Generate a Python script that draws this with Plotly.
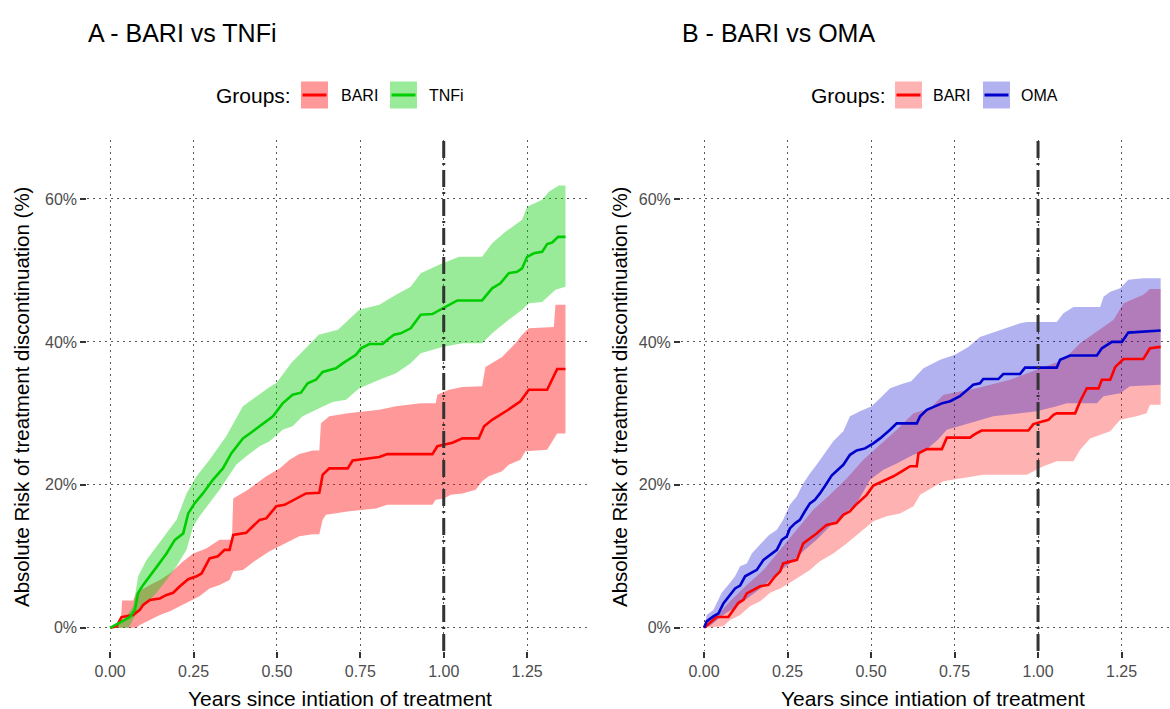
import plotly.graph_objects as go

# ---------------- data ----------------
# Panel A - BARI vs TNFi
a_tnfi_t = [0, 0.02, 0.04, 0.059, 0.074, 0.084, 0.099, 0.119, 0.144, 0.169, 0.194, 0.219, 0.234, 0.253, 0.278,
            0.308, 0.338, 0.363, 0.398, 0.428, 0.458, 0.488, 0.517, 0.547, 0.572, 0.592, 0.617, 0.637, 0.677,
            0.697, 0.737, 0.752, 0.777, 0.817, 0.831, 0.851, 0.871, 0.901, 0.931, 0.966, 1.001, 1.041, 1.115,
            1.145, 1.170, 1.195, 1.220, 1.235, 1.250, 1.270, 1.295, 1.310, 1.325, 1.343, 1.365]
a_tnfi_y = [0, 0.5, 1.0, 1.5, 2.5, 4.9, 6.0, 7.2, 8.8, 10.4, 12.3, 13.2, 16.0, 17.4, 18.8,
            20.7, 22.3, 24.4, 26.5, 27.5, 28.6, 29.6, 31.4, 32.6, 32.9, 34.2, 34.7, 35.8, 36.3,
            37.0, 38.2, 39.1, 39.7, 39.7, 40.3, 41.0, 41.2, 41.9, 43.8, 43.9, 44.8, 45.8, 45.8,
            47.5, 48.2, 49.6, 49.8, 50.3, 51.9, 52.4, 52.6, 53.7, 53.9, 54.7, 54.7]
a_tnfi_up_t = [0, 0.039, 0.069, 0.084, 0.109, 0.139, 0.169, 0.199, 0.229, 0.259, 0.298, 0.348, 0.398, 0.438,
               0.478, 0.499, 0.544, 0.59, 0.625, 0.683, 0.747, 0.807, 0.857, 0.901, 0.931, 0.986, 1.046,
               1.115, 1.145, 1.185, 1.235, 1.25, 1.295, 1.315, 1.345, 1.365]
a_tnfi_up_y = [0, 0.9, 3.0, 7.2, 9.5, 11.4, 13.2, 15.1, 18.8, 21.2, 23.5, 26.8, 31.0, 32.4,
               33.7, 34.3, 37.1, 39.3, 41.0, 41.7, 44.5, 45.2, 46.6, 47.7, 49.6, 50.8, 51.9,
               51.9, 53.8, 55.4, 57.1, 58.9, 59.9, 61.0, 61.9, 61.9]
a_tnfi_lo_t = [0, 0.055, 0.079, 0.109, 0.139, 0.169, 0.199, 0.229, 0.249, 0.268, 0.298, 0.328, 0.348, 0.378,
               0.408, 0.448, 0.478, 0.517, 0.547, 0.577, 0.627, 0.667, 0.707, 0.747, 0.807, 0.857, 0.901,
               0.931, 0.996, 1.056, 1.115, 1.145, 1.195, 1.235, 1.255, 1.295, 1.335, 1.365]
a_tnfi_lo_y = [0, 0.0, 2.0, 3.5, 4.9, 6.7, 8.6, 10.9, 14.2, 15.6, 17.4, 19.3, 20.7, 22.8,
               24.0, 25.4, 26.1, 27.7, 28.2, 29.6, 30.7, 31.6, 31.9, 33.5, 34.7, 35.6, 37.0,
               38.4, 39.3, 39.8, 39.8, 41.2, 43.1, 44.5, 45.4, 45.6, 47.3, 47.7]

a_bari_t = [0, 0.019, 0.034, 0.069, 0.089, 0.099, 0.119, 0.149, 0.169, 0.189, 0.209, 0.234, 0.259, 0.274,
            0.298, 0.323, 0.343, 0.358, 0.369, 0.408, 0.428, 0.448, 0.468, 0.498, 0.523, 0.558, 0.587,
            0.627, 0.637, 0.657, 0.712, 0.727, 0.807, 0.831, 0.966, 0.981, 1.026, 1.056, 1.105, 1.121,
            1.145, 1.19, 1.23, 1.255, 1.31, 1.34, 1.365]
a_bari_y = [0, 0.2, 1.5, 1.8, 2.5, 3.2, 3.9, 4.1, 4.6, 4.9, 5.8, 6.8, 7.2, 7.6,
            9.7, 10.0, 10.9, 10.9, 13.0, 13.3, 14.2, 15.1, 15.3, 17.0, 17.2, 18.1, 18.8,
            18.9, 21.4, 22.3, 22.3, 23.4, 23.9, 24.3, 24.3, 25.4, 25.9, 26.5, 26.5, 28.2,
            29.1, 30.4, 31.7, 33.3, 33.3, 36.2, 36.2]
a_bari_up_t = [0, 0.032, 0.036, 0.069, 0.079, 0.119, 0.149, 0.179, 0.219, 0.249, 0.288, 0.328, 0.365, 0.369,
               0.413, 0.468, 0.508, 0.538, 0.567, 0.607, 0.627, 0.632, 0.657, 0.712, 0.807, 0.857, 0.931,
               0.976, 0.981, 1.016, 1.056, 1.115, 1.125, 1.175, 1.215, 1.235, 1.255, 1.31, 1.33, 1.335,
               1.365]
a_bari_up_y = [0, 1.0, 3.8, 3.8, 4.9, 6.0, 6.7, 7.6, 9.3, 10.4, 11.1, 12.3, 12.3, 18.1,
               19.3, 21.2, 22.3, 23.5, 24.3, 24.8, 24.8, 28.6, 29.6, 30.0, 30.5, 31.0, 31.4,
               31.4, 32.6, 33.3, 33.7, 33.8, 36.5, 37.9, 39.8, 41.0, 41.9, 42.1, 42.1, 45.2,
               45.2]
a_bari_lo_t = [0, 0.079, 0.089, 0.119, 0.149, 0.179, 0.209, 0.239, 0.268, 0.298, 0.328, 0.358, 0.369, 0.398,
               0.438, 0.478, 0.517, 0.567, 0.607, 0.627, 0.637, 0.647, 0.717, 0.797, 0.831, 0.966, 0.976,
               1.001, 1.021, 1.056, 1.096, 1.115, 1.135, 1.175, 1.195, 1.23, 1.245, 1.31, 1.34, 1.365]
a_bari_lo_y = [0, 0.0, 0.4, 1.1, 1.8, 2.3, 3.0, 3.7, 4.4, 5.5, 6.0, 6.7, 7.9, 8.1,
               9.5, 10.7, 11.6, 12.8, 13.1, 13.1, 15.1, 15.8, 16.3, 16.7, 17.2, 17.2, 17.9,
               18.1, 18.6, 18.8, 19.3, 20.5, 21.2, 21.9, 22.8, 23.5, 24.7, 24.9, 27.2, 27.2]

# Panel B - BARI vs OMA
b_oma_t = [0, 0.008, 0.028, 0.043, 0.058, 0.093, 0.108, 0.123, 0.158, 0.178, 0.218, 0.233, 0.248, 0.257,
           0.272, 0.287, 0.302, 0.317, 0.332, 0.347, 0.367, 0.382, 0.417, 0.437, 0.457, 0.482, 0.507,
           0.527, 0.557, 0.577, 0.637, 0.647, 0.667, 0.712, 0.737, 0.766, 0.806, 0.826, 0.836, 0.881,
           0.896, 0.946, 0.961, 1.056, 1.066, 1.096, 1.176, 1.191, 1.221, 1.251, 1.270, 1.335, 1.367]
b_oma_y = [0, 0.9, 1.6, 2.0, 3.4, 5.5, 5.9, 7.2, 8.1, 9.5, 10.9, 12.3, 12.8, 13.9,
           14.6, 15.1, 16.3, 17.4, 17.9, 18.8, 20.2, 21.3, 22.8, 24.2, 24.8, 25.1, 25.8,
           26.5, 27.7, 28.6, 28.6, 29.6, 30.5, 31.4, 31.7, 32.4, 34.0, 34.2, 34.8, 34.8,
           35.5, 35.5, 36.4, 36.4, 37.5, 38.1, 38.1, 39.1, 40.0, 40.0, 41.3, 41.5, 41.6]
b_oma_up_t = [0, 0.008, 0.028, 0.053, 0.078, 0.093, 0.108, 0.128, 0.143, 0.168, 0.193, 0.218, 0.237,
              0.257, 0.278, 0.297, 0.317, 0.337, 0.367, 0.387, 0.417, 0.437, 0.467, 0.502, 0.527,
              0.557, 0.592, 0.62, 0.657, 0.707, 0.751, 0.791, 0.826, 0.886, 0.946, 0.966, 1.056,
              1.076, 1.106, 1.186, 1.196, 1.216, 1.246, 1.270, 1.315, 1.367]
b_oma_up_y = [0, 1.8, 2.5, 4.9, 6.3, 7.2, 8.6, 9.0, 10.4, 11.6, 12.9, 13.7, 15.1,
              17.2, 18.4, 20.2, 21.6, 22.8, 24.7, 26.1, 27.5, 29.6, 30.3, 31.0, 32.1,
              33.5, 34.1, 34.5, 36.3, 37.5, 38.2, 39.3, 40.7, 41.7, 42.6, 42.8, 42.8,
              44.0, 44.9, 44.9, 46.3, 47.0, 47.5, 48.7, 48.9, 48.9]
b_oma_lo_t = [0, 0.018, 0.058, 0.098, 0.138, 0.178, 0.218, 0.257, 0.297, 0.337, 0.377, 0.417, 0.457,
              0.497, 0.537, 0.577, 0.627, 0.66, 0.7, 0.727, 0.796, 0.866, 0.946, 0.996, 1.056, 1.086,
              1.176, 1.196, 1.246, 1.275, 1.367]
b_oma_lo_y = [0, 0.3, 1.8, 3.0, 4.4, 5.8, 7.6, 9.0, 10.7, 12.3, 14.2, 15.8, 17.4,
              20.7, 22.1, 23.0, 24.2, 24.7, 26.3, 27.7, 28.6, 29.6, 30.0, 30.3, 31.0, 31.4,
              31.4, 32.4, 32.8, 33.8, 34.0]

b_bari_t = [0, 0.018, 0.038, 0.073, 0.088, 0.103, 0.118, 0.128, 0.168, 0.193, 0.213, 0.228, 0.237, 0.278,
            0.297, 0.337, 0.367, 0.397, 0.417, 0.437, 0.452, 0.487, 0.507, 0.567, 0.592, 0.617, 0.637,
            0.642, 0.667, 0.712, 0.727, 0.796, 0.811, 0.831, 0.971, 0.986, 1.031, 1.046, 1.056, 1.111,
            1.126, 1.146, 1.181, 1.191, 1.216, 1.231, 1.256, 1.315, 1.335, 1.367]
b_bari_y = [0, 0.7, 1.5, 1.5, 2.5, 3.5, 3.9, 4.8, 5.8, 6.0, 7.2, 7.9, 9.0, 9.5,
            11.8, 13.2, 14.4, 14.7, 15.8, 16.3, 17.1, 18.6, 19.9, 21.2, 21.9, 22.6, 22.6,
            24.4, 25.0, 25.0, 26.6, 26.6, 27.1, 27.6, 27.6, 28.5, 29.1, 29.8, 30.0, 30.0,
            31.7, 33.5, 33.5, 34.7, 34.7, 36.5, 37.6, 37.6, 39.1, 39.3]
b_bari_up_t = [0, 0.028, 0.078, 0.128, 0.178, 0.228, 0.277, 0.327, 0.377, 0.427, 0.477, 0.527, 0.577,
               0.627, 0.677, 0.717, 0.816, 0.916, 0.996, 1.076, 1.126, 1.176, 1.226, 1.256, 1.315,
               1.335, 1.367]
b_bari_up_y = [0, 1.1, 3.7, 6.0, 8.1, 10.9, 13.7, 16.5, 18.6, 20.9, 23.5, 25.6, 27.7,
               30.0, 30.7, 32.6, 33.5, 34.7, 36.1, 37.5, 39.8, 41.4, 43.1, 45.4, 46.6,
               47.4, 47.4]
b_bari_lo_t = [0, 0.058, 0.078, 0.108, 0.138, 0.168, 0.198, 0.228, 0.257, 0.287, 0.317, 0.347, 0.387,
               0.427, 0.457, 0.487, 0.507, 0.547, 0.587, 0.627, 0.647, 0.717, 0.766, 0.836, 0.966,
               0.996, 1.016, 1.056, 1.106, 1.126, 1.156, 1.216, 1.246, 1.295, 1.325, 1.335, 1.367]
b_bari_lo_y = [0, 0.2, 1.1, 1.8, 3.0, 3.7, 4.9, 5.5, 6.3, 7.2, 8.1, 9.3, 10.4,
               11.8, 13.0, 14.2, 14.9, 15.6, 16.0, 17.0, 18.6, 20.5, 20.9, 21.4, 21.4,
               22.1, 22.6, 23.3, 23.3, 24.9, 26.5, 27.5, 29.1, 29.6, 30.0, 31.2, 31.2]

x_ticks = [0, 0.25, 0.5, 0.75, 1.0, 1.25]
x_tick_text = ["0.00", "0.25", "0.50", "0.75", "1.00", "1.25"]
y_ticks = [0, 20, 40, 60]
y_tick_text = ["0%", "20%", "40%", "60%"]
cutoff_year = 1.0

# ---------------- styling ----------------
W, H = 1170, 709
FONT = "Liberation Sans, Arial, sans-serif"
RED, GREEN, BLUE = "#FF0000", "#00CD00", "#0000CD"
RED_FILL_A, GREEN_FILL_A = "rgba(255,0,0,0.4)", "rgba(0,205,0,0.4)"
RED_FILL_B, BLUE_FILL_B = "rgba(255,0,0,0.3)", "rgba(0,0,205,0.3)"


def fx(p):
    return p / W


def fy(p):
    return 1 - p / H


fig = go.Figure()


def band(t_lo, y_lo, t_up, y_up, fill, xa, ya):
    fig.add_trace(go.Scatter(x=t_lo, y=y_lo, mode="lines", line=dict(width=0),
                             xaxis=xa, yaxis=ya, showlegend=False, hoverinfo="skip"))
    fig.add_trace(go.Scatter(x=t_up, y=y_up, mode="lines", line=dict(width=0),
                             fill="tonexty", fillcolor=fill, xaxis=xa, yaxis=ya,
                             showlegend=False, hoverinfo="skip"))


def curve(t, y, color, xa, ya):
    fig.add_trace(go.Scatter(x=t, y=y, mode="lines", line=dict(color=color, width=2.6),
                             xaxis=xa, yaxis=ya, showlegend=False))


# panel A
band(a_bari_lo_t, a_bari_lo_y, a_bari_up_t, a_bari_up_y, RED_FILL_A, "x", "y")
band(a_tnfi_lo_t, a_tnfi_lo_y, a_tnfi_up_t, a_tnfi_up_y, GREEN_FILL_A, "x", "y")
curve(a_bari_t, a_bari_y, RED, "x", "y")
curve(a_tnfi_t, a_tnfi_y, GREEN, "x", "y")
# panel B
band(b_bari_lo_t, b_bari_lo_y, b_bari_up_t, b_bari_up_y, RED_FILL_B, "x2", "y2")
band(b_oma_lo_t, b_oma_lo_y, b_oma_up_t, b_oma_up_y, BLUE_FILL_B, "x2", "y2")
curve(b_bari_t, b_bari_y, RED, "x2", "y2")
curve(b_oma_t, b_oma_y, BLUE, "x2", "y2")

grid = dict(showgrid=True, gridcolor="#5A5A5A", gridwidth=1.2, griddash="2px,4px", zeroline=False,
            showline=False, ticks="outside", ticklen=6, tickwidth=1.5, tickcolor="#333333",
            tickfont=dict(family=FONT, size=16, color="#4D4D4D"))

y_dom = [58 / H, 569 / H]
fig.update_layout(
    width=W, height=H, margin=dict(l=0, r=0, t=0, b=0),
    paper_bgcolor="white", plot_bgcolor="white", showlegend=False,
    font=dict(family=FONT),
    xaxis=dict(domain=[fx(87.3), fx(590)], range=[-0.0685, 1.4385], tickvals=x_ticks,
               ticktext=x_tick_text, anchor="y", **grid),
    yaxis=dict(domain=y_dom, range=[-3.25, 68.25], tickvals=y_ticks, ticktext=y_tick_text,
               anchor="x", **grid),
    xaxis2=dict(domain=[fx(681), 1.0], range=[-0.0689, 1.395], tickvals=x_ticks,
                ticktext=x_tick_text, anchor="y2", **grid),
    yaxis2=dict(domain=y_dom, range=[-3.25, 68.25], tickvals=y_ticks, ticktext=y_tick_text,
                anchor="x2", **grid),
)

# dashed reference line at 1 year
for xr, yr in (("x", "y domain"), ("x2", "y2 domain")):
    fig.add_shape(type="line", xref=xr, yref=yr, x0=cutoff_year, x1=cutoff_year, y0=0, y1=1,
                  line=dict(color="#333333", width=3, dash="17px,5px,2px,5px"), layer="above")

ann = []
# titles
ann.append(dict(text="A - BARI vs TNFi", x=fx(86), y=fy(33), xanchor="left", yanchor="middle",
                font=dict(size=25, color="black")))
ann.append(dict(text="B - BARI vs OMA", x=fx(680), y=fy(33), xanchor="left", yanchor="middle",
                font=dict(size=25, color="black")))
# axis titles
for cx in (340, 933):
    ann.append(dict(text="Years since intiation of treatment", x=fx(cx), y=fy(698),
                    xanchor="center", yanchor="middle", font=dict(size=21, color="black")))
for cx in (21, 619):
    ann.append(dict(text="Absolute Risk of treatment discontinuation (%)", x=fx(cx), y=fy(397),
                    xanchor="center", yanchor="middle", textangle=-90,
                    font=dict(size=20.5, color="black")))

# legends (manual, ggplot style)
legend_specs = [
    (214.5, [(301, RED_FILL_A, RED, "BARI", 339), (390, GREEN_FILL_A, GREEN, "TNFi", 426.5)]),
    (809, [(895, RED_FILL_B, RED, "BARI", 931.5), (983, BLUE_FILL_B, BLUE, "OMA", 1018.5)]),
]
ky0, ky1 = 81.5, 108.5
for gx, items in legend_specs:
    ann.append(dict(text="Groups:", x=fx(gx), y=fy(95), xanchor="left", yanchor="middle",
                    font=dict(size=21, color="black")))
    for bx, fcol, lcol, lab, tx in items:
        fig.add_shape(type="rect", xref="paper", yref="paper", x0=fx(bx), x1=fx(bx + 27),
                      y0=fy(ky1), y1=fy(ky0), fillcolor=fcol, line=dict(width=0))
        fig.add_shape(type="line", xref="paper", yref="paper", x0=fx(bx + 1.5), x1=fx(bx + 25.5),
                      y0=fy(95), y1=fy(95), line=dict(color=lcol, width=3))
        ann.append(dict(text=lab, x=fx(tx), y=fy(95), xanchor="left", yanchor="middle",
                        font=dict(size=16, color="black")))

for a in ann:
    a.update(xref="paper", yref="paper", showarrow=False)
fig.update_layout(annotations=ann)

fig.write_html("out.html")
